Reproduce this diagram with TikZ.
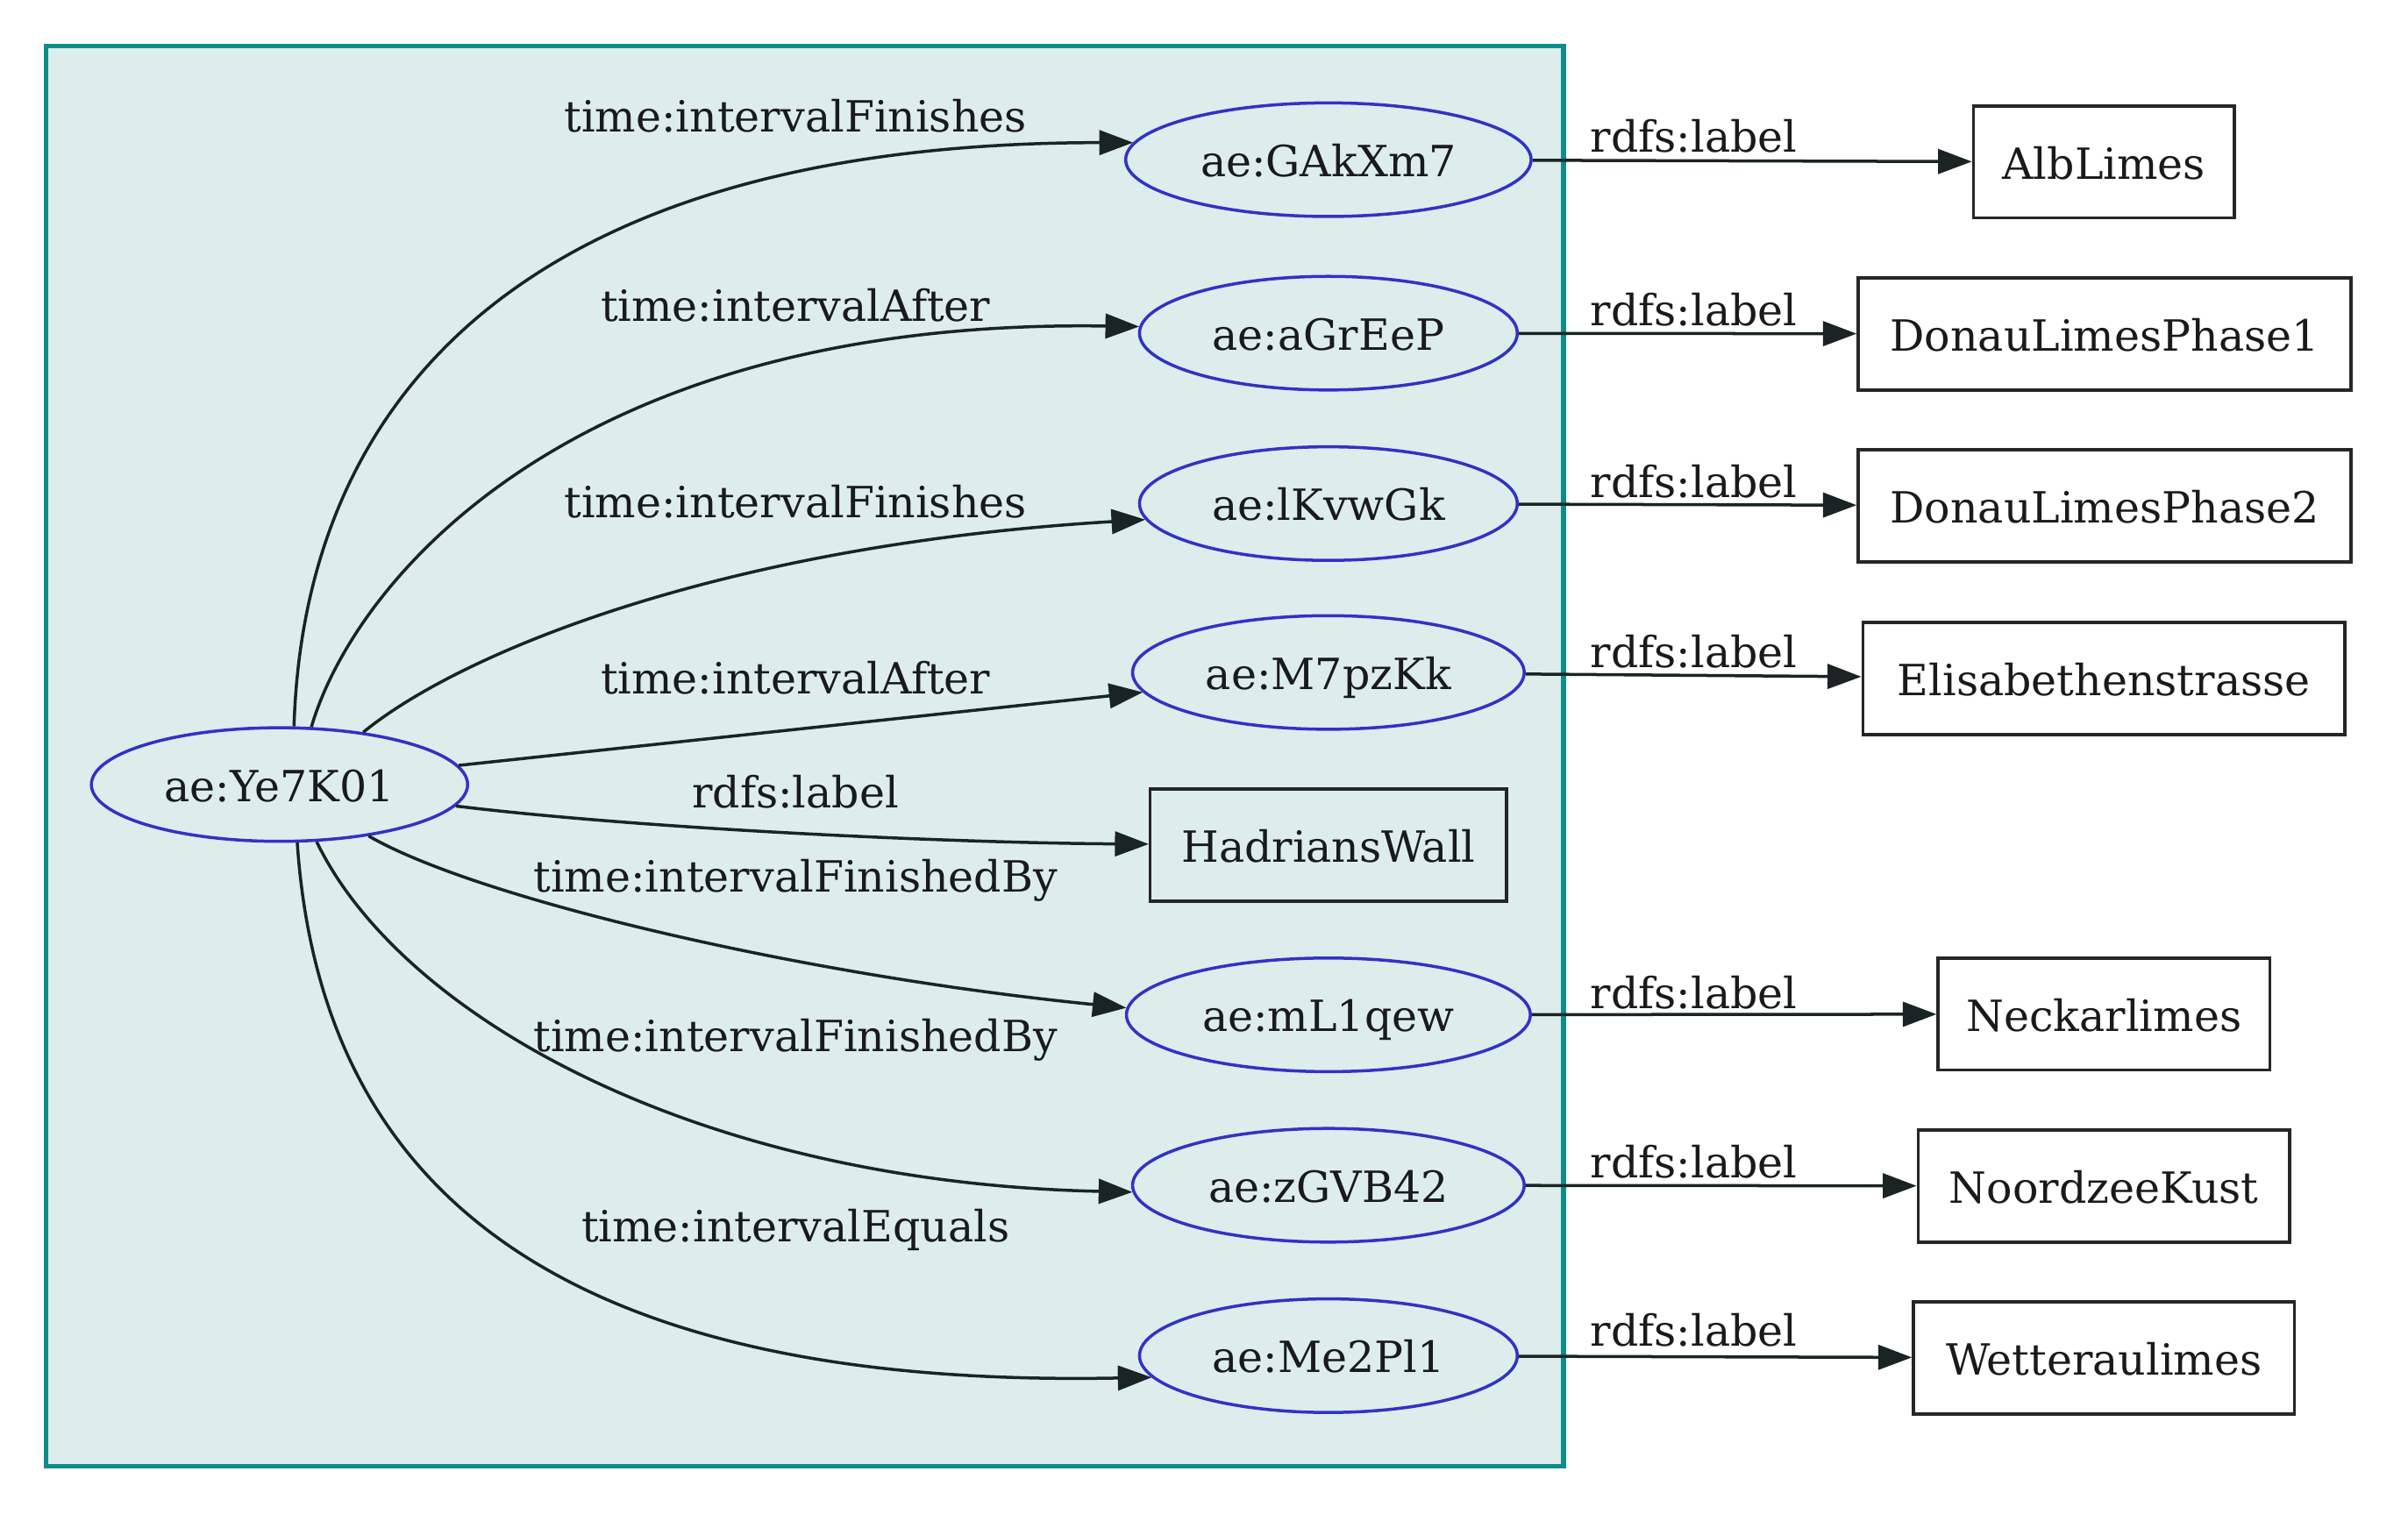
\documentclass[tikz,border=0pt]{standalone}
\usepackage{fontspec}
\setmainfont{DejaVu Serif}
\usetikzlibrary{shapes.geometric,arrows.meta}
\definecolor{framefill}{HTML}{DCEDEC}
\definecolor{framedraw}{HTML}{0E8C8A}
\definecolor{ellblue}{HTML}{3232C4}
\definecolor{edgecol}{HTML}{1A2424}
\definecolor{txt}{HTML}{1A1A1A}
\begin{document}
\begin{tikzpicture}[x=0.5pt,y=-0.5pt,
  every node/.style={font=\fontsize{14}{16}\selectfont, text=txt},
  ent/.style={ellipse, draw=ellblue, line width=1pt, inner sep=0pt, minimum height=37pt, text height=12pt, text depth=1pt},
  lit/.style={rectangle, draw=black!85, line width=1pt, inner sep=0pt, minimum height=36.5pt, text height=12pt, text depth=1pt},
  rel/.style={draw=edgecol, line width=1pt, -{Triangle[length=11pt,width=8pt]}},
  elab/.style={anchor=base, inner sep=0pt}
]
\useasboundingbox (0,0) rectangle (1568,986);
% cluster frame
\node[draw=framedraw, fill=framefill, line width=1.6pt, inner sep=0pt, minimum width=494pt, minimum height=462.5pt] (frame) at (524,492.5) {};

% entity nodes
\node[ent, minimum width=122.5pt] (Y)  at (182,511) {ae:Ye7K01};
\node[ent, minimum width=132pt]   (G)  at (865,104) {ae:GAkXm7};
\node[ent, minimum width=123pt]   (aG) at (865,217) {ae:aGrEeP};
\node[ent, minimum width=123pt]   (lK) at (865,328) {ae:lKvwGk};
\node[ent, minimum width=127.5pt] (M7) at (865,438) {ae:M7pzKk};
\node[lit, minimum width=116pt]   (HW) at (865,550.5) {HadriansWall};
\node[ent, minimum width=131.5pt] (mL) at (865,661) {ae:mL1qew};
\node[ent, minimum width=127.5pt] (zG) at (865,772) {ae:zGVB42};
\node[ent, minimum width=123pt]   (Me) at (865,883) {ae:Me2Pl1};

% literal nodes
\node[lit, minimum width=85pt]    (Alb) at (1370,105.5) {AlbLimes};
\node[lit, minimum width=160.5pt] (D1)  at (1370.5,217.5) {DonauLimesPhase1};
\node[lit, minimum width=160.5pt] (D2)  at (1370.5,329.5) {DonauLimesPhase2};
\node[lit, minimum width=157pt]   (El)  at (1370,442) {Elisabethenstrasse};
\node[lit, minimum width=108pt]   (Ne)  at (1370,660.5) {Neckarlimes};
\node[lit, minimum width=121pt]   (No)  at (1370,772.5) {NoordzeeKust};
\node[lit, minimum width=124pt]   (We)  at (1370,884.5) {Wetteraulimes};

% edges from ae:Ye7K01
\draw[rel] (Y.76) .. controls (198,260) and (340,93) .. (G.175);
\draw[rel] (Y.61) .. controls (230,380) and (370,207) .. (aG.178);
\draw[rel] (Y.32) .. controls (300,425) and (470,355) .. (lK.185);
\draw[rel] (Y) -- (M7);
\draw[rel] (Y) .. controls (420,540) and (620,549) .. (HW);
\draw[rel] (Y.-30) .. controls (310,585) and (520,635) .. (mL.178);
\draw[rel] (Y.-57) .. controls (260,660) and (450,770) .. (zG.182);
\draw[rel] (Y.-73) .. controls (208,760) and (345,905) .. (Me.187);

% edges to labels
\draw[rel] (G) -- (Alb);
\draw[rel] (aG) -- (D1);
\draw[rel] (lK) -- (D2);
\draw[rel] (M7) -- (El);
\draw[rel] (mL) -- (Ne);
\draw[rel] (zG) -- (No);
\draw[rel] (Me) -- (We);

% edge labels (left)
\node[elab] (l1) at (518,86)  {time:intervalFinishes};
\node[elab] (l2) at (518,209) {time:intervalAfter};
\node[elab] (l3) at (518,337) {time:intervalFinishes};
\node[elab] (l4) at (518,452) {time:intervalAfter};
\node[elab] (l5) at (518,526) {rdfs:label};
\node[elab] (l6) at (518,581) {time:intervalFinishedBy};
\node[elab] (l7) at (518,685) {time:intervalFinishedBy};
\node[elab] (l8) at (518,809) {time:intervalEquals};

% edge labels (right)
\node[elab] (r1) at (1103,99)  {rdfs:label};
\node[elab] (r2) at (1103,212) {rdfs:label};
\node[elab] (r3) at (1103,324) {rdfs:label};
\node[elab] (r4) at (1103,435) {rdfs:label};
\node[elab] (r5) at (1103,657) {rdfs:label};
\node[elab] (r6) at (1103,767) {rdfs:label};
\node[elab] (r7) at (1103,877) {rdfs:label};
\end{tikzpicture}
\end{document}
